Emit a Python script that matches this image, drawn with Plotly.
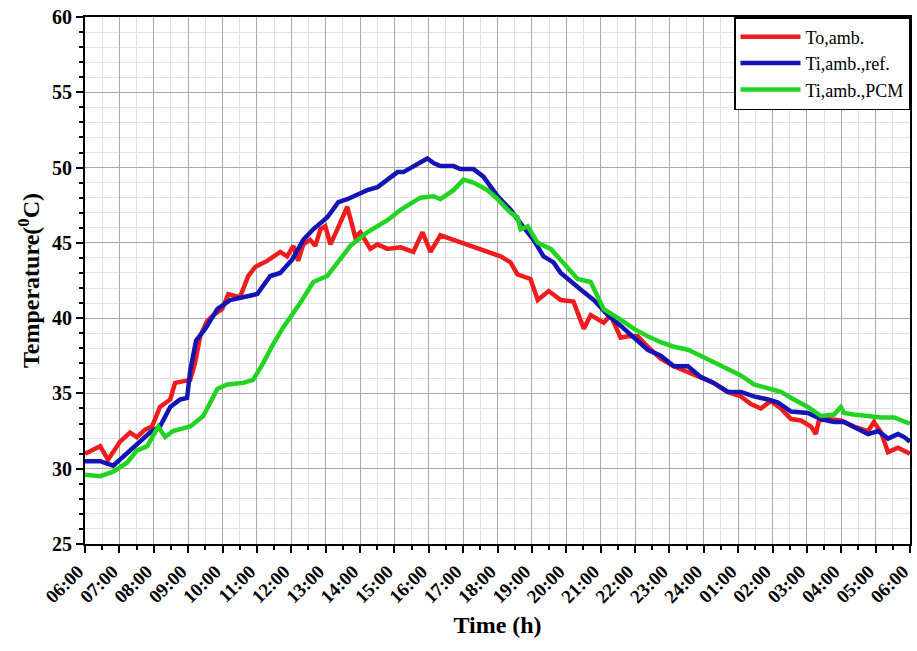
import plotly.graph_objects as go

# Time in hours since 00:00 of day 1 (06:00 -> 6, next-day 06:00 -> 30)
red_t = [6.00, 6.44, 6.67, 7.02, 7.31, 7.51, 7.75, 7.95, 8.18, 8.48, 8.62, 8.85, 9.06, 9.20, 9.35, 9.55,
         9.79, 9.99, 10.17, 10.51, 10.75, 10.95, 11.30, 11.68, 11.88, 12.06, 12.20, 12.35, 12.55, 12.70,
         12.85, 12.99, 13.14, 13.34, 13.63, 13.86, 14.01, 14.30, 14.51, 14.80, 15.18, 15.55, 15.82, 16.05,
         16.34, 16.72, 17.21, 17.71, 18.09, 18.38, 18.58, 18.96, 19.17, 19.49, 19.84, 20.21, 20.51, 20.71,
         21.09, 21.29, 21.58, 21.79, 22.08, 22.37, 22.66, 22.75, 23.13, 23.54, 23.91, 24.29, 24.70, 25.08,
         25.37, 25.66, 25.95, 26.24, 26.54, 26.83, 27.12, 27.26, 27.35, 27.61, 27.99, 28.37, 28.78, 28.95,
         29.16, 29.36, 29.65, 29.83, 30.00]
red_v = [31.0, 31.5, 30.6, 31.8, 32.4, 32.1, 32.6, 32.8, 34.1, 34.6, 35.7, 35.8, 35.9, 37.0, 38.8, 39.8,
         40.3, 40.6, 41.6, 41.4, 42.8, 43.4, 43.8, 44.4, 44.1, 44.8, 43.8, 44.9, 45.2, 44.8,
         45.9, 46.1, 44.9, 45.9, 47.4, 45.4, 45.7, 44.6, 44.9, 44.6, 44.7, 44.4, 45.7, 44.4,
         45.5, 45.2, 44.8, 44.4, 44.1, 43.7, 42.9, 42.6, 41.2, 41.8, 41.2, 41.1, 39.3, 40.2,
         39.7, 40.2, 38.7, 38.8, 38.8, 38.1, 37.5, 37.3, 36.8, 36.4, 36.1, 35.7, 35.1, 34.8,
         34.3, 34.0, 34.5, 34.0, 33.3, 33.2, 32.8, 32.3, 33.2, 33.3, 33.2, 32.8, 32.5, 33.1,
         32.4, 31.1, 31.4, 31.2, 31.0]

blue_t = [6.00, 6.44, 6.82, 7.11, 7.51, 7.89, 8.18, 8.48, 8.77, 8.97, 9.06, 9.23, 9.50, 9.85, 10.22,
          10.60, 11.01, 11.39, 11.68, 12.03, 12.35, 12.64, 13.05, 13.37, 13.63, 14.21, 14.51, 14.80, 15.09,
          15.26, 15.55, 15.90, 15.96, 16.14, 16.34, 16.72, 16.92, 17.30, 17.59, 18.00, 18.38, 18.67, 19.05,
          19.34, 19.63, 19.84, 20.04, 20.42, 20.80, 21.21, 21.58, 21.96, 22.37, 22.75, 23.13, 23.54, 23.91,
          24.29, 24.70, 25.08, 25.46, 25.87, 26.16, 26.54, 27.03, 27.41, 27.79, 28.08, 28.37, 28.78, 29.07,
          29.36, 29.65, 29.83, 30.00]
blue_v = [30.5, 30.5, 30.2, 30.8, 31.6, 32.4, 32.8, 34.1, 34.6, 34.7, 36.5, 38.5, 39.3, 40.6, 41.2,
          41.4, 41.6, 42.8, 43.0, 43.9, 45.2, 45.9, 46.7, 47.7, 47.9, 48.5, 48.7, 49.2, 49.7,
          49.7, 50.1, 50.5, 50.6, 50.3, 50.1, 50.1, 49.9, 49.9, 49.4, 48.1, 47.2, 46.3, 45.2,
          44.1, 43.7, 43.0, 42.6, 41.9, 41.2, 40.2, 39.5, 38.7, 37.9, 37.5, 36.8, 36.8, 36.1,
          35.7, 35.1, 35.1, 34.8, 34.6, 34.4, 33.8, 33.7, 33.3, 33.1, 33.1, 32.8, 32.3, 32.5,
          32.0, 32.3, 32.1, 31.8]

green_t = [6.00, 6.44, 6.82, 7.22, 7.51, 7.81, 8.13, 8.33, 8.56, 9.06, 9.44, 9.85, 10.14, 10.60, 10.89,
           11.18, 11.48, 11.77, 12.26, 12.64, 13.05, 13.43, 13.72, 14.21, 14.80, 15.18, 15.55, 15.76, 16.14,
           16.34, 16.72, 17.01, 17.30, 17.71, 18.00, 18.38, 18.58, 18.67, 18.88, 19.17, 19.55, 19.92, 20.33,
           20.71, 21.09, 21.58, 21.96, 22.37, 22.75, 23.13, 23.54, 23.91, 24.29, 24.70, 25.08, 25.46, 25.87,
           26.24, 26.62, 27.03, 27.41, 27.79, 27.99, 28.08, 28.37, 28.78, 29.16, 29.54, 30.00]
green_v = [29.6, 29.5, 29.8, 30.4, 31.2, 31.5, 32.8, 32.1, 32.5, 32.8, 33.5, 35.3, 35.6, 35.7, 35.9,
           37.0, 38.3, 39.4, 41.0, 42.4, 42.8, 43.9, 44.8, 45.7, 46.5, 47.2, 47.7, 48.0, 48.1,
           47.9, 48.5, 49.2, 49.0, 48.5, 47.9, 47.0, 46.7, 45.9, 46.1, 45.0, 44.6, 43.7, 42.6,
           42.4, 40.6, 39.9, 39.3, 38.8, 38.4, 38.1, 37.9, 37.5, 37.1, 36.6, 36.2, 35.6, 35.3,
           35.1, 34.6, 34.1, 33.5, 33.6, 34.1, 33.7, 33.6, 33.5, 33.4, 33.4, 33.0]

tick_vals = list(range(6, 31))
tick_text = ["06:00", "07:00", "08:00", "09:00", "10:00", "11:00", "12:00", "13:00", "14:00", "15:00",
             "16:00", "17:00", "18:00", "19:00", "20:00", "21:00", "22:00", "23:00", "24:00", "01:00",
             "02:00", "03:00", "04:00", "05:00", "06:00"]

series = [
    ("To,amb.", red_t, red_v, "#ee1c1c"),
    ("Ti,amb.,ref.", blue_t, blue_v, "#1414b4"),
    ("Ti,amb.,PCM", green_t, green_v, "#22d422"),
]

FONT = "Liberation Serif, Times New Roman, serif"

fig = go.Figure()
for name, t, v, c in series:
    fig.add_trace(go.Scatter(x=t, y=v, mode="lines", name=name,
                             line=dict(color=c, width=4.5)))

fig.update_layout(
    width=917, height=651,
    margin=dict(l=85, r=7, t=17, b=107, autoexpand=False),
    paper_bgcolor="white", plot_bgcolor="white",
    font=dict(family=FONT, color="black"),
    showlegend=True,
    legend=dict(x=1, y=1, xanchor="right", yanchor="top",
                bgcolor="white", bordercolor="black", borderwidth=1.5,
                font=dict(family=FONT, size=18), tracegroupgap=0,
                itemwidth=60),
)

fig.update_xaxes(
    range=[6, 30], tickmode="array", tickvals=tick_vals, ticktext=tick_text,
    tickangle=-45, tickfont=dict(family=FONT, size=19, color="black", weight="bold"),
    ticklabeloverflow="allow", ticklabelshift=-7,
    showline=True, linecolor="black", linewidth=2, mirror=True, automargin=False,
    ticks="outside", ticklen=7, tickwidth=2, tickcolor="black",
    showgrid=True, gridcolor="#a8a8a8", gridwidth=1, zeroline=False,
    minor=dict(dtick=0.5, tick0=6, showgrid=True, gridcolor="#e2e2e2", gridwidth=1,
               ticks="outside", ticklen=4, tickwidth=1.5, tickcolor="black"),
    title=dict(text="<b>Time (h)</b>", font=dict(family=FONT, size=24, color="black"), standoff=10),
)

fig.update_yaxes(
    range=[25, 60], dtick=5, tick0=25,
    tickfont=dict(family=FONT, size=20, color="black", weight="bold"),
    ticklabeloverflow="allow",
    showline=True, linecolor="black", linewidth=2, mirror=True, automargin=False,
    ticks="outside", ticklen=7, tickwidth=2, tickcolor="black",
    showgrid=True, gridcolor="#a8a8a8", gridwidth=1, zeroline=False,
    minor=dict(dtick=1, showgrid=True, gridcolor="#e2e2e2", gridwidth=1,
               ticks="outside", ticklen=4, tickwidth=1.5, tickcolor="black"),
    title=dict(text="<b>Temperature(<sup>0</sup>C)</b>", font=dict(family=FONT, size=24, color="black"),
               standoff=6),
)

fig.write_html("out.html")
